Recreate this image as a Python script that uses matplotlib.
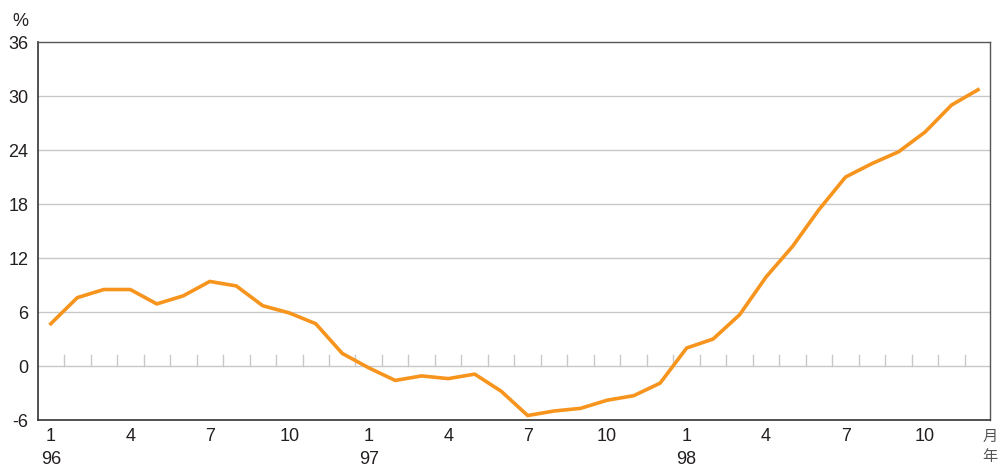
import matplotlib
matplotlib.use('Agg')
import matplotlib.pyplot as plt
import numpy as np

plt.rcParams['font.family'] = ['Liberation Sans', 'Noto Sans CJK TC', 'DejaVu Sans']

# 1996年1月 - 1998年12月, 按年变动百分率
months = list(range(1, 13)) * 3
years = ['96', '97', '98']
values = [4.7, 7.6, 8.5, 8.5, 6.9, 7.8, 9.4, 8.9, 6.7, 5.9, 4.7, 1.4,
          -0.2, -1.6, -1.1, -1.4, -0.9, -2.8, -5.5, -5.0, -4.7, -3.8, -3.3, -1.9,
          2.0, 3.0, 5.7, 9.9, 13.3, 17.4, 21.0, 22.5, 23.8, 26.0, 29.0, 30.7]
yticks = [-6, 0, 6, 12, 18, 24, 30, 36]
line_color = '#F7941D'

fig = plt.figure(figsize=(10.03, 4.67), dpi=100)
ax = fig.add_axes([0.038, 0.1006, 0.949, 0.8094])

x = np.arange(len(values))

# 网格线
for v in yticks[1:-1]:
    ax.axhline(v, color='#c8c8c8', lw=1.0, zorder=1)

# 零线上的月份分隔小刻度
for b in x[:-1] + 0.5:
    ax.plot([b, b], [0, 1.2], color='#c8c8c8', lw=1.0, zorder=1)

ax.plot(x, values, color=line_color, lw=2.6, zorder=3, solid_joinstyle='round')

ax.set_xlim(-0.48, 35.45)
ax.set_ylim(-6, 36)
ax.set_yticks(yticks)
ax.set_yticklabels([str(v) for v in yticks], fontsize=13, color='#231f20')
ax.tick_params(axis='y', length=0, pad=7)

tick_pos = [i for i in x if months[i] in (1, 4, 7, 10)]
ax.set_xticks(tick_pos)
labels = []
for i in tick_pos:
    if months[i] == 1:
        labels.append('%d\n%s' % (months[i], years[i // 12]))
    else:
        labels.append(str(months[i]))
ax.set_xticklabels(labels, fontsize=13, color='#231f20', linespacing=1.4, va='top')
ax.tick_params(axis='x', length=0, pad=6)

for s in ['left', 'bottom']:
    ax.spines[s].set_color('#333333')
    ax.spines[s].set_linewidth(1.2)
for s in ['top', 'right']:
    ax.spines[s].set_color('#555555')
    ax.spines[s].set_linewidth(1.0)

fig.text(0.012, 0.955, '%', fontsize=13, color='#231f20', ha='left', va='center')
fig.text(0.987, 0.065, '月', fontsize=11, color='#555555', ha='center', va='center')
fig.text(0.987, 0.022, '年', fontsize=11, color='#555555', ha='center', va='center')

fig.savefig('out.png', dpi=100)
